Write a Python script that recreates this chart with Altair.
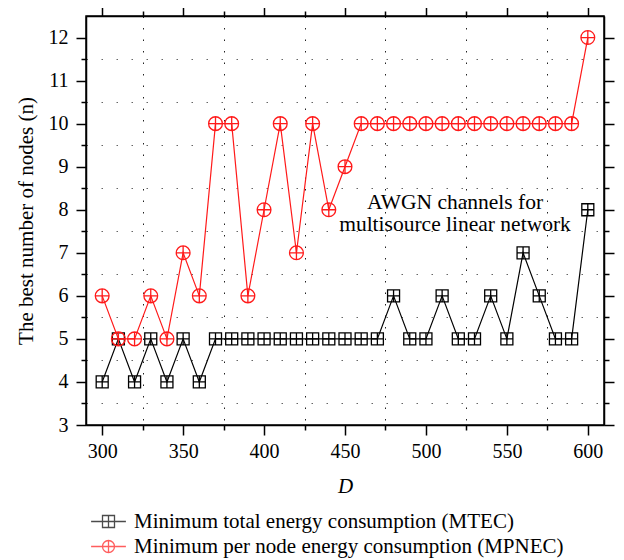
import altair as alt
import pandas as pd

# ---------------- data ----------------
D = [300, 310, 320, 330, 340, 350, 360, 370, 380, 390, 400, 410, 420, 430, 440, 450,
     460, 470, 480, 490, 500, 510, 520, 530, 540, 550, 560, 570, 580, 590, 600]
MTEC = [4, 5, 4, 5, 4, 5, 4, 5, 5, 5, 5, 5, 5, 5, 5, 5,
        5, 5, 6, 5, 5, 6, 5, 5, 6, 5, 7, 6, 5, 5, 8]
MPNEC = [6, 5, 5, 6, 5, 7, 6, 10, 10, 6, 8, 10, 7, 10, 8, 9,
         10, 10, 10, 10, 10, 10, 10, 10, 10, 10, 10, 10, 10, 10, 12]
SERIES = ["Minimum total energy consumption (MTEC)",
          "Minimum per node energy consumption (MPNEC)"]
COLORS = ["#000000", "#ff1a1a"]
X_TICKS = [300, 325, 350, 375, 400, 425, 450, 475, 500, 525, 550, 575, 600]
Y_TICKS = [3, 3.5, 4, 4.5, 5, 5.5, 6, 6.5, 7, 7.5, 8, 8.5, 9, 9.5,
           10, 10.5, 11, 11.5, 12]
NOTE = ["AWGN channels for", "multisource linear network"]
X_TITLE = "D"
Y_TITLE = "The best number of nodes (n)"

df = pd.DataFrame({
    "D": D + D,
    "n": MTEC + MPNEC,
    "series": [SERIES[0]] * len(D) + [SERIES[1]] * len(D),
})

FONT = "'Liberation Serif', 'Times New Roman', serif"
SQ = "M-1,-1L1,-1L1,1L-1,1Z M0,-1L0,1 M-1,0L1,0"
CI = "M-1,0A1,1,0,1,0,1,0A1,1,0,1,0,-1,0Z M0,-1L0,1 M-1,0L1,0"
SQ_LEG = "M-2.9,0L-1,0 M1,0L2.9,0 " + SQ
CI_LEG = "M-2.9,0L-1,0 M1,0L2.9,0 " + CI

xscale = alt.Scale(domain=[290, 610], nice=False, zero=False)
yscale = alt.Scale(domain=[3, 12.5], nice=False, zero=False)

xmaj = "datum.value % 50 == 0"
ymaj = "datum.value % 1 == 0"


def tsize(test):
    return {"condition": {"test": test, "value": 10}, "value": 5}


def gop(test):
    return {"condition": {"test": test, "value": 0}, "value": 1}


common = dict(tickColor="black", tickWidth=1.5, domainColor="black", domainWidth=1.5,
              labelFont=FONT, labelFontSize=20, labelColor="black", labelOverlap=False,
              titleFont=FONT, titleFontSize=21, titleColor="black", titleFontWeight="normal")

x_axis = alt.Axis(values=X_TICKS, orient="bottom", tickSize=tsize(xmaj),
                  labelExpr=f"{xmaj} ? format(datum.value, 'd') : ''",
                  labelPadding=6, labelFlush=False,
                  title=X_TITLE, titleFontStyle="italic", titlePadding=14,
                  grid=True, gridColor="#222222", gridDash=[1.5, 10], gridWidth=1,
                  gridOpacity=gop(xmaj), **common)
y_axis = alt.Axis(values=Y_TICKS, orient="left", tickSize=tsize(ymaj),
                  labelExpr=f"{ymaj} ? format(datum.value, 'd') : ''", labelPadding=8,
                  title=Y_TITLE, titlePadding=12,
                  grid=True, gridColor="#666666", gridDash=[1.5, 13.5], gridWidth=1,
                  gridOpacity=gop(ymaj), **common)
x_top = alt.Axis(values=X_TICKS, orient="top", tickSize=tsize(xmaj), labels=False,
                 title=None, grid=False, **common)
y_right = alt.Axis(values=Y_TICKS, orient="right", tickSize=tsize(ymaj), labels=False,
                   title=None, grid=False, **common)

X = alt.X("D:Q", scale=xscale, axis=x_axis)
Y = alt.Y("n:Q", scale=yscale, axis=y_axis)

layers = []
for i, (shape, size) in enumerate([(SQ, 144), (CI, 190)]):
    sub = alt.Chart(df).transform_filter(alt.datum.series == SERIES[i])
    layers.append(sub.mark_line(color=COLORS[i], strokeWidth=1.2).encode(x=X, y=Y))
    layers.append(sub.mark_point(shape=shape, size=size, filled=False, color=COLORS[i],
                                 strokeWidth=1.3, opacity=1).encode(x=X, y=Y))

leg = alt.Legend(orient="none", legendX=12, legendY=495, title=None, padding=0,
                 labelFont=FONT, labelFontSize=21, labelColor="black", labelOffset=15,
                 labelLimit=600,
                 symbolSize=144, symbolStrokeWidth=1.3, symbolFillColor="transparent",
                 rowPadding=3)
legend_layer = alt.Chart(df).transform_filter("false").mark_point(
    filled=False, strokeWidth=1.3).encode(
    shape=alt.Shape("series:N", scale=alt.Scale(domain=SERIES, range=[SQ_LEG, CI_LEG]),
                    legend=leg),
    stroke=alt.Stroke("series:N", scale=alt.Scale(domain=SERIES, range=COLORS), legend=leg),
)
layers.append(legend_layer)

note = alt.Chart(pd.DataFrame({"k": [0]})).mark_text(
    font=FONT, fontSize=21.5, align="center", baseline="alphabetic", lineHeight=22,
    color="black", x=369, y=193).encode(text=alt.value(NOTE))
layers.append(note)

inner = alt.layer(*layers)

mirror = alt.Chart(df).mark_point(opacity=0).encode(
    x=alt.X("D:Q", scale=xscale, axis=x_top),
    y=alt.Y("n:Q", scale=yscale, axis=y_right),
)

chart = alt.layer(inner, mirror).resolve_axis(x="independent", y="independent").properties(
    width=518, height=409, autosize="none",
    padding={"left": 78, "top": 8, "right": 12, "bottom": 135},
    background="white",
).configure_view(stroke="black", strokeWidth=1.5)

chart.save("out.html", embed_options={"renderer": "svg", "actions": False})
